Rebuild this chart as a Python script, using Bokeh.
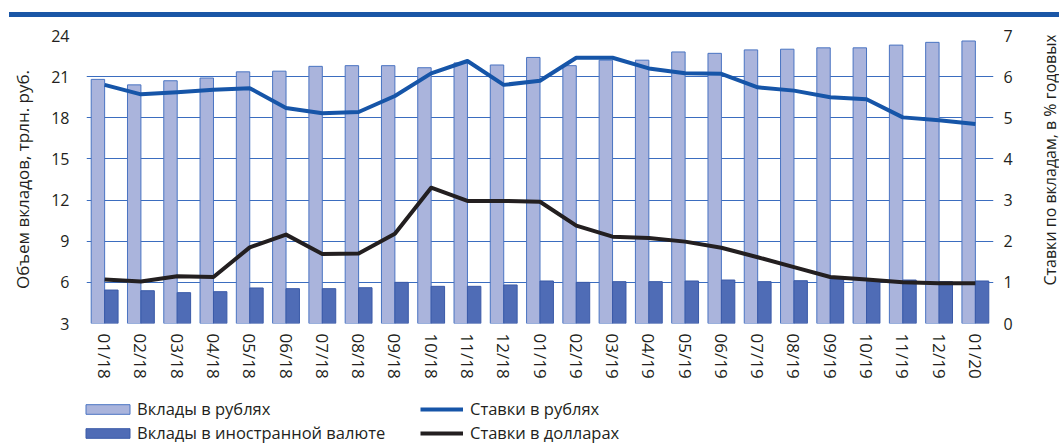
from math import pi
from bokeh.plotting import figure
from bokeh.models import (Range1d, LinearAxis, FixedTicker, FactorRange, Legend,
                          LegendItem, Label, Div, ColumnDataSource)
from bokeh.transform import dodge
from bokeh.layouts import column, row
from bokeh.embed import file_html
from bokeh.resources import INLINE

# ---------------- data ----------------
months = ["01/18", "02/18", "03/18", "04/18", "05/18", "06/18", "07/18", "08/18",
          "09/18", "10/18", "11/18", "12/18", "01/19", "02/19", "03/19", "04/19",
          "05/19", "06/19", "07/19", "08/19", "09/19", "10/19", "11/19", "12/19",
          "01/20"]
rub_deposits = [20.8, 20.4, 20.7, 20.9, 21.35, 21.4, 21.75, 21.8, 21.8, 21.65, 22.0,
                21.85, 22.4, 21.8, 22.2, 22.2, 22.8, 22.7, 22.95, 23.0, 23.1, 23.1,
                23.3, 23.5, 23.6]
fx_deposits = [5.44, 5.39, 5.25, 5.32, 5.59, 5.54, 5.54, 5.61, 6.0, 5.71, 5.71, 5.81,
               6.1, 6.0, 6.05, 6.05, 6.1, 6.17, 6.05, 6.12, 6.22, 6.05, 6.17, 6.05, 6.1]
rub_rates = [5.80, 5.57, 5.62, 5.68, 5.72, 5.24, 5.11, 5.14, 5.53, 6.08, 6.38, 5.80,
             5.90, 6.46, 6.46, 6.20, 6.08, 6.07, 5.74, 5.66, 5.50, 5.45, 5.01, 4.94, 4.85]
usd_rates = [1.07, 1.02, 1.15, 1.13, 1.85, 2.16, 1.69, 1.70, 2.18, 3.30, 2.98, 2.98,
             2.96, 2.38, 2.11, 2.08, 1.99, 1.84, 1.61, 1.37, 1.13, 1.07, 1.00, 0.98, 0.98]
left_ticks = [3, 6, 9, 12, 15, 18, 21, 24]
right_ticks = [0, 1, 2, 3, 4, 5, 6, 7]

left_title = "Объем вкладов, трлн. руб."
right_title = "Ставки по вкладам, в % годовых"
legend_labels = ["Вклады в рублях", "Вклады в иностранной валюте",
                 "Ставки в рублях", "Ставки в долларах"]

# ---------------- style ----------------
FONT = "Open Sans"
TXT = "#231f20"
GRID = "#3b6dbf"
BLUE_DARK = "#1a56a6"
RUB_FILL, RUB_LINE = "#aab4dc", "#4a74c2"
FX_FILL, FX_LINE = "#4f6cb6", "#3a5aa8"
RATE_RUB = "#1655a8"
LW = 4

src = ColumnDataSource(dict(m=months, rub=rub_deposits, fx=fx_deposits,
                            rr=rub_rates, ur=usd_rates))

# ---------------- main chart ----------------
p = figure(x_range=FactorRange(factors=months), y_range=Range1d(3, 24),
           width=1030, height=373, output_backend="svg", toolbar_location=None,
           min_border_left=86, min_border_right=37, min_border_top=18,
           min_border_bottom=67)
p.extra_y_ranges = {"rate": Range1d(0, 7)}
p.outline_line_color = None
p.background_fill_color = "white"
p.border_fill_color = "white"

p.xgrid.grid_line_color = None
p.ygrid.grid_line_color = GRID
p.ygrid.grid_line_width = 1


def style_axis(ax, size="16px"):
    ax.axis_line_color = None
    ax.major_tick_line_color = None
    ax.minor_tick_line_color = None
    ax.major_tick_out = 0
    ax.major_tick_in = 0
    ax.minor_tick_out = 0
    ax.minor_tick_in = 0
    ax.major_label_text_font = FONT
    ax.major_label_text_font_size = size
    ax.major_label_text_color = TXT


ya = p.yaxis[0]
ya.ticker = FixedTicker(ticks=left_ticks)
style_axis(ya)
ya.major_label_standoff = 17
ya.axis_label = left_title
ya.axis_label_text_font = FONT
ya.axis_label_text_font_size = "17px"
ya.axis_label_text_font_style = "normal"
ya.axis_label_text_color = TXT
ya.axis_label_standoff = 14

ra = LinearAxis(y_range_name="rate", ticker=FixedTicker(ticks=right_ticks))
style_axis(ra)
ra.major_label_standoff = 10
p.add_layout(ra, "right")

xa = p.xaxis[0]
style_axis(xa, "17px")
xa.major_label_orientation = "vertical"
xa.major_label_standoff = 10

r1 = p.vbar(x=dodge("m", -0.185, range=p.x_range), top="rub", bottom=3, width=0.37,
            source=src, fill_color=RUB_FILL, line_color=RUB_LINE, line_width=1)
r2 = p.vbar(x=dodge("m", 0.185, range=p.x_range), top="fx", bottom=3, width=0.37,
            source=src, fill_color=FX_FILL, line_color=FX_LINE, line_width=1)
r3 = p.line(x="m", y="rr", source=src, y_range_name="rate", line_color=RATE_RUB,
            line_width=LW, line_join="round")
r4 = p.line(x="m", y="ur", source=src, y_range_name="rate", line_color=TXT,
            line_width=LW, line_join="round")

# ---------------- right title strip ----------------
TF_W, TF_H = 29, 373
tf = figure(width=TF_W, height=TF_H, x_range=Range1d(0, TF_W), y_range=Range1d(0, TF_H),
            x_axis_type=None, y_axis_type=None, output_backend="svg",
            toolbar_location=None, min_border=0, title=None)
tf.outline_line_color = None
tf.grid.visible = False
tf.add_layout(Label(x=19, y=TF_H - 161, text=right_title, angle=pi / 2,
                    text_align="center", text_baseline="middle", text_font=FONT,
                    text_font_size="16px", text_color=TXT))

# ---------------- legend strip ----------------
# legend-only strip: same data, but its y-range lies above all values, so nothing is drawn
lf = figure(width=1059, height=53, x_range=FactorRange(factors=months),
            y_range=Range1d(100, 101), x_axis_type=None, y_axis_type=None,
            output_backend="svg", toolbar_location=None, min_border=0, title=None)
lf.outline_line_color = None
lf.grid.visible = False
l1 = lf.vbar(x="m", top="rub", bottom=0, width=0.37, source=src,
             fill_color=RUB_FILL, line_color=RUB_LINE, line_width=1)
l2 = lf.vbar(x="m", top="fx", bottom=0, width=0.37, source=src,
             fill_color=FX_FILL, line_color=FX_LINE, line_width=1)
l3 = lf.line(x="m", y="rr", source=src, line_color=RATE_RUB, line_width=LW)
l4 = lf.line(x="m", y="ur", source=src, line_color=TXT, line_width=LW)

common = dict(orientation="vertical", glyph_height=12, spacing=1, padding=0, margin=0,
              border_line_color=None, background_fill_alpha=0, label_height=18,
              label_text_font=FONT, label_text_font_size="16.5px", label_text_color=TXT)
leg1 = Legend(items=[LegendItem(label=legend_labels[0], renderers=[l1]),
                     LegendItem(label=legend_labels[1], renderers=[l2])],
              location=(80, -1), glyph_width=55, label_standoff=2, **common)
leg2 = Legend(items=[LegendItem(label=legend_labels[2], renderers=[l3]),
                     LegendItem(label=legend_labels[3], renderers=[l4])],
              location=(420, -1), glyph_width=43, label_standoff=7, **common)
lf.add_layout(leg1)
lf.add_layout(leg2)

top_bar = Div(text="", width=1050, height=5, margin=(12, 0, 0, 9),
              styles={"background-color": BLUE_DARK})

layout = column(top_bar, row(p, tf, spacing=0), lf, spacing=0)
open("out.html", "w").write(file_html(layout, INLINE))
